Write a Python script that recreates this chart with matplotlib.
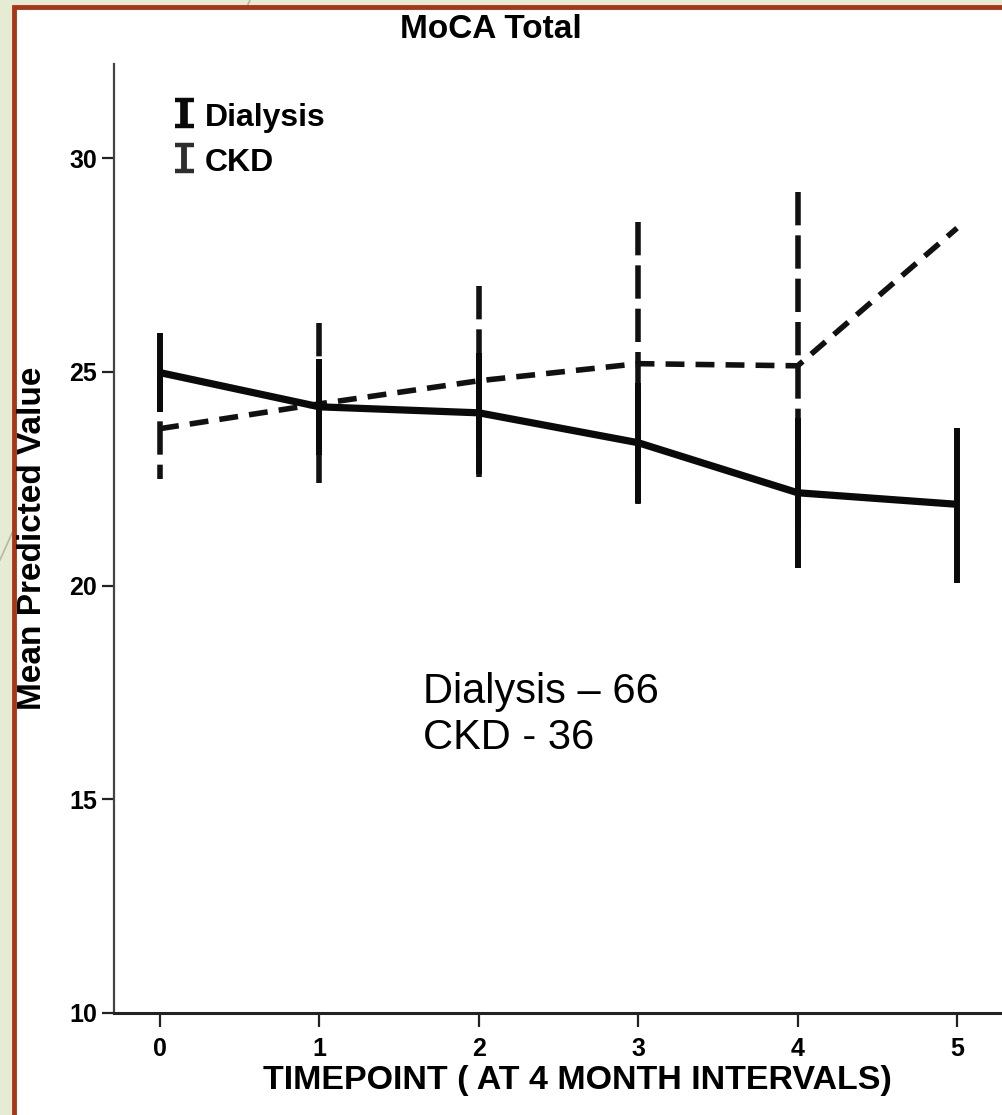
import matplotlib
matplotlib.use("Agg")
import matplotlib.pyplot as plt
from matplotlib.patches import Rectangle
from matplotlib.lines import Line2D
import numpy as np

# data
timepoints = [0, 1, 2, 3, 4, 5]
dialysis_mean = [24.98, 24.18, 24.04, 23.34, 22.17, 21.90]
dialysis_lo = [24.05, 23.05, 22.60, 21.94, 20.41, 20.05]
dialysis_hi = [25.91, 25.30, 25.45, 24.74, 23.93, 23.69]
ckd_mean = [23.67, 24.25, 24.79, 25.19, 25.14, 28.36]
ckd_lo = [22.50, 22.40, 22.55, 21.90, 21.10, np.nan]
ckd_hi = [24.85, 26.15, 27.00, 28.50, 29.20, np.nan]
y_ticks = [10, 15, 20, 25, 30]

W, H = 1002, 1115
plt.rcParams['font.family'] = ['Liberation Sans', 'DejaVu Sans']
narrow = ['Liberation Sans Narrow', 'Liberation Sans', 'DejaVu Sans']

fig = plt.figure(figsize=(W / 100, H / 100), dpi=100, facecolor="#e6ebd3")


def fx(px):
    return px / W


def fy(py):
    return 1 - py / H


# slide decoration behind the white box
fig.lines.append(Line2D([fx(0), fx(250)], [fy(560), fy(0)], transform=fig.transFigure,
                        color="#b4b8a2", lw=1.2, zorder=0))
# white panel with red frame
fig.patches.append(Rectangle((fx(14), fy(1130)), 1.2, fy(7) - fy(1130), transform=fig.transFigure,
                             facecolor="white", edgecolor="#a9361b", lw=3.5, zorder=1))

ax = fig.add_axes([fx(114), fy(1013), 1 - fx(114), fy(64) - fy(1013)])
ax.set_facecolor("none")
ax.set_zorder(2)

# dialysis: solid
ax.plot(timepoints, dialysis_mean, color="#0a0a0a", lw=5.2, solid_capstyle="butt", zorder=4)
ax.vlines(timepoints, dialysis_lo, dialysis_hi, color="#0a0a0a", lw=4.3, zorder=4)

# ckd: dashed (bars drawn top-down so the dash pattern starts at the top)
ax.plot(timepoints, ckd_mean, color="#111111", lw=4.0, linestyle=(0, (3.4, 2.0)), zorder=3)
ax.vlines(timepoints, ckd_hi, ckd_lo, color="#111111", lw=4.0,
          linestyles=[(0, (6.0, 1.8))], zorder=3)

ax.set_xlim(-0.289, 5.282)
ax.set_ylim(10, 32.2)
ax.set_xticks(timepoints)
ax.set_yticks(y_ticks)
ax.tick_params(axis="both", direction="out", width=1.6, color="#222222")
ax.tick_params(axis="y", length=9, pad=3)
ax.tick_params(axis="x", length=10, pad=7)
for lab in ax.get_xticklabels() + ax.get_yticklabels():
    lab.set_fontweight("bold")
    lab.set_fontsize(18)
    lab.set_family(narrow)

for side in ["top", "right"]:
    ax.spines[side].set_visible(False)
ax.spines["left"].set_color("#444444")
ax.spines["left"].set_linewidth(1.6)
ax.spines["bottom"].set_color("#222222")
ax.spines["bottom"].set_linewidth(2.2)

# titles and labels
fig.text(fx(491), fy(30), "MoCA Total", ha="center", va="center", fontsize=24, fontweight="bold")
fig.text(fx(577), fy(1080), "TIMEPOINT ( AT 4 MONTH INTERVALS)", ha="center", va="center",
         fontsize=24.5, fontweight="bold")
fig.text(fx(33), fy(538), "Mean Predicted Value", ha="center", va="center", rotation=90,
         fontsize=24, fontweight="bold")

# legend symbols drawn as small error-bar glyphs
for top, bot, col, stem in [(98, 128, "#0a0a0a", 5.5), (143, 173, "#2e2e2e", 4.2)]:
    fig.lines.append(Line2D([fx(184), fx(184)], [fy(top), fy(bot)], transform=fig.transFigure,
                            color=col, lw=stem, solid_capstyle="butt", zorder=5))
    for yy in (top + 2, bot - 2):
        fig.lines.append(Line2D([fx(175), fx(194)], [fy(yy), fy(yy)], transform=fig.transFigure,
                                color=col, lw=3.2, solid_capstyle="butt", zorder=5))
fig.text(fx(205), fy(118), "Dialysis", ha="left", va="center", fontsize=23, fontweight="bold")
fig.text(fx(205), fy(163), "CKD", ha="left", va="center", fontsize=23, fontweight="bold")

# sample sizes
fig.text(fx(423), fy(715), "Dialysis \u2013 66\nCKD - 36", ha="left", va="center",
         fontsize=30, linespacing=1.2)

fig.savefig("out.png", dpi=100, facecolor=fig.get_facecolor())
